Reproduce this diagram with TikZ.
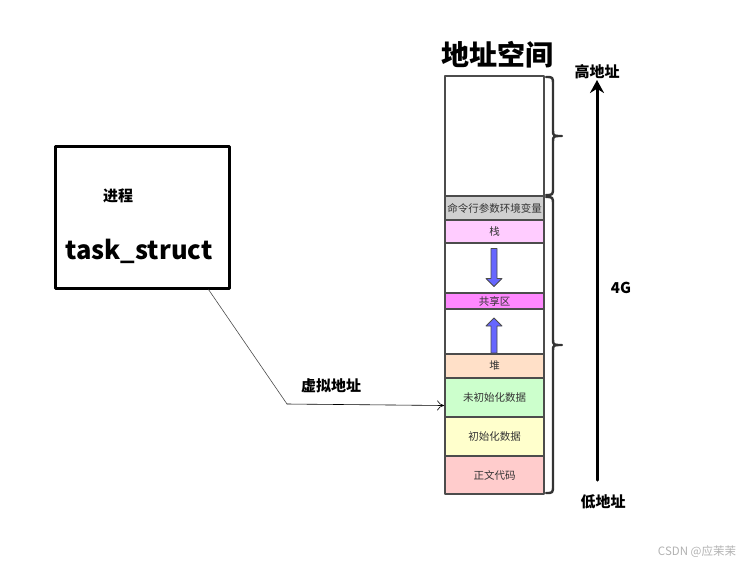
\documentclass[tikz,border=0pt]{standalone}
\usepackage{fontspec}
\setmainfont{Noto Sans CJK SC}
\usetikzlibrary{arrows.meta,calc,shapes.arrows}
\definecolor{argc}{HTML}{D0D0D0}
\definecolor{stk}{HTML}{FFCCFF}
\definecolor{shr}{HTML}{FF88FF}
\definecolor{hp}{HTML}{FFE0C8}
\definecolor{bss}{HTML}{CCFFCC}
\definecolor{dat}{HTML}{FFFFCC}
\definecolor{txt}{HTML}{FFCCCC}
\definecolor{blk}{HTML}{6666FF}
\tikzset{
	seg/.style={draw=black!70, line width=1.8pt, minimum width=99pt, inner sep=0pt, font=\fontsize{10.5}{10.5}\selectfont, text=black!80},
	blkarrow/.style={single arrow, draw=black!70, fill=blk, line width=0.8pt, minimum width=16pt, single arrow head extend=4pt, inner sep=2pt},
	lbl/.style={font=\fontsize{15}{15}\selectfont\bfseries},
	brc/.style={draw=black!80, line width=2.4pt}
}
\begin{document}
\begin{tikzpicture}[x=1pt, y=-1pt, line join=round, line cap=round, >=stealth]
	\useasboundingbox (0,0) rectangle (755,566);
	% address space column
	\node[font=\fontsize{28}{28}\selectfont\bfseries] (title) at (497,55) {地址空间};
	\foreach \t/\b/\c/\n/\s in {76/196/white/free/{},196/220/argc/env/命令行参数环境变量,220/243/stk/stack/栈,243/293/white/gapa/{},293/309/shr/share/共享区,309/354/white/gapb/{},354/378/hp/heap/堆,378/417/bss/uninit/未初始化数据,417/456/dat/init/初始化数据,456/494/txt/code/正文代码}{
		\pgfmathsetmacro\h{\b-\t}
		\node[seg, fill=\c, minimum height=\h pt] (\n) at (494.5,{(\t+\b)/2}) {\s};
	}
	% growth arrows
	\node[blkarrow, minimum height=38pt, rotate=-90] (down) at (494,266) {};
	\node[blkarrow, minimum height=35pt, rotate=90] (up) at (494,337) {};
	% braces
	\foreach \t/\b in {77/195,197/493}{
		\pgfmathsetmacro\m{(\t+\b)/2}
		\draw[brc] (546,\t) .. controls (553,\t) .. (553,{\t+8}) -- (553,{\m-6})
			.. controls (553,\m) .. (562,\m) .. controls (553,\m) .. (553,{\m+6})
			-- (553,{\b-8}) .. controls (553,\b) .. (546,\b);
	}
	% 4G arrow
	\path (597,480) coordinate (lo) (597,80) coordinate (hi);
	\draw[line width=3pt, -{Stealth[length=13pt,width=14pt]}] (lo) -- (hi);
	\node[lbl] (high) at (597,72) {高地址};
	\node[lbl] (low) at (603,502) {低地址};
	\node[lbl] (size) at (621,288) {4G};
	% process
	\node[draw, line width=3pt, minimum width=174pt, minimum height=142pt] (proc) at (142,217) {};
	\node[lbl] (pname) at (118,196) {进程};
	\node[font=\fontsize{25.5}{25.5}\selectfont\bfseries] (task) at (139,251) {task\_struct};
	% virtual address
	\path (287,404) coordinate (vbend);
	\draw[black!70, line width=0.6pt] ($(proc.south east)+(-22,0)$) -- (vbend);
	\draw[line width=0.6pt, -{To[length=7pt,width=10pt]}] (vbend) -- ([yshift=-8pt]uninit.west);
	\node[lbl] (vaddr) at (331,386) {虚拟地址};
	\node[font=\fontsize{11.5}{11.5}\selectfont, text=black!30] (mark) at (697,552) {CSDN @应茉茉};
\end{tikzpicture}
\end{document}
